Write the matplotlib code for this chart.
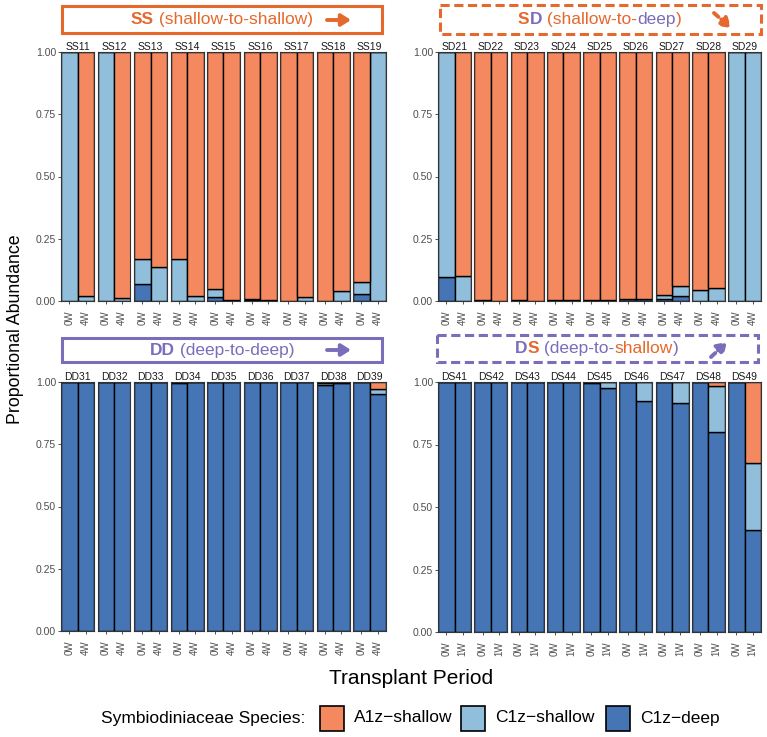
import matplotlib
matplotlib.use('Agg')
import matplotlib.pyplot as plt
from matplotlib.patches import Rectangle

plt.rcParams['font.family'] = ['Liberation Sans', 'DejaVu Sans']

# colours
c_a1 = '#F4895F'
c_c1s = '#91BFDB'
c_deep = '#4575B4'
orange = '#E5682C'
purple = '#7A6DB9'

# ---- data (proportions) ----
ss_ids = ['SS11', 'SS12', 'SS13', 'SS14', 'SS15', 'SS16', 'SS17', 'SS18', 'SS19']
ss_deep_0 = [0, 0, 0.07, 0, 0.015, 0.004, 0, 0, 0.027]
ss_c1s_0 = [1.0, 1.0, 0.10, 0.17, 0.035, 0.004, 0, 0, 0.051]
ss_a1_0 = [0, 0, 0.83, 0.83, 0.95, 0.992, 1.0, 1.0, 0.922]
ss_deep_1 = [0, 0, 0, 0, 0, 0.003, 0, 0, 0]
ss_c1s_1 = [0.022, 0.012, 0.135, 0.02, 0.005, 0.003, 0.018, 0.042, 1.0]
ss_a1_1 = [0.978, 0.988, 0.865, 0.98, 0.995, 0.994, 0.982, 0.958, 0]

sd_ids = ['SD21', 'SD22', 'SD23', 'SD24', 'SD25', 'SD26', 'SD27', 'SD28', 'SD29']
sd_deep_0 = [0.095, 0.005, 0.005, 0.003, 0.003, 0.007, 0.01, 0, 0]
sd_c1s_0 = [0.905, 0, 0, 0, 0, 0, 0.015, 0.045, 1.0]
sd_a1_0 = [0, 0.995, 0.995, 0.997, 0.997, 0.993, 0.975, 0.955, 0]
sd_deep_1 = [0, 0, 0, 0.003, 0.003, 0.007, 0.021, 0, 0]
sd_c1s_1 = [0.10, 0, 0, 0, 0, 0, 0.039, 0.053, 1.0]
sd_a1_1 = [0.90, 1.0, 1.0, 0.997, 0.997, 0.993, 0.94, 0.947, 0]

dd_ids = ['DD31', 'DD32', 'DD33', 'DD34', 'DD35', 'DD36', 'DD37', 'DD38', 'DD39']
dd_deep_0 = [1, 1, 1, 0.997, 1, 1, 1, 0.987, 1]
dd_c1s_0 = [0, 0, 0, 0.003, 0, 0, 0, 0.01, 0]
dd_a1_0 = [0, 0, 0, 0, 0, 0, 0, 0.003, 0]
dd_deep_1 = [1, 1, 1, 1, 1, 1, 1, 0.995, 0.953]
dd_c1s_1 = [0, 0, 0, 0, 0, 0, 0, 0.005, 0.017]
dd_a1_1 = [0, 0, 0, 0, 0, 0, 0, 0, 0.03]

ds_ids = ['DS41', 'DS42', 'DS43', 'DS44', 'DS45', 'DS46', 'DS47', 'DS48', 'DS49']
ds_deep_0 = [1, 1, 1, 1, 0.995, 1, 1, 1, 1]
ds_c1s_0 = [0, 0, 0, 0, 0.005, 0, 0, 0, 0]
ds_a1_0 = [0, 0, 0, 0, 0, 0, 0, 0, 0]
ds_deep_1 = [1, 1, 1, 1, 0.977, 0.924, 0.917, 0.80, 0.409]
ds_c1s_1 = [0, 0, 0, 0, 0.023, 0.076, 0.083, 0.184, 0.267]
ds_a1_1 = [0, 0, 0, 0, 0, 0, 0, 0.016, 0.324]

period_4w = ['0W', '4W']
period_1w = ['0W', '1W']

W, H = 767, 737
fig = plt.figure(figsize=(W / 100, H / 100), dpi=100)

# overlay axes in pixel coordinates for boxes, titles, legend
ov = fig.add_axes([0, 0, 1, 1])
ov.set_xlim(0, W)
ov.set_ylim(H, 0)
ov.axis('off')


def draw_panel(x0, x1, ytop, ybot, ids, d0, s0, a0, d1, s1, a1, periods):
    fw = 33
    gap = (x1 - x0 - 9 * fw) / 8
    for i, name in enumerate(ids):
        left = x0 + i * (fw + gap)
        ax = fig.add_axes([left / W, 1 - ybot / H, fw / W, (ybot - ytop) / H])
        deep = [d0[i], d1[i]]
        c1s = [s0[i], s1[i]]
        a1z = [a0[i], a1[i]]
        bot2 = [deep[0] + c1s[0], deep[1] + c1s[1]]
        kw = dict(width=1.0, edgecolor='black', linewidth=1.0)
        ax.bar([0, 1], deep, color=c_deep, **kw)
        ax.bar([0, 1], c1s, bottom=deep, color=c_c1s, **kw)
        ax.bar([0, 1], a1z, bottom=bot2, color=c_a1, **kw)
        ax.set_xlim(-0.5, 1.5)
        ax.set_ylim(0, 1)
        for sp in ax.spines.values():
            sp.set_color('#333333')
            sp.set_linewidth(0.8)
        ax.set_xticks([0, 1])
        ax.set_xticklabels(periods, rotation=90, fontsize=7, color='#4D4D4D')
        ax.tick_params(axis='x', length=2.5, width=0.6, color='#333333', pad=4)
        if i == 0:
            ax.set_yticks([0, 0.25, 0.5, 0.75, 1.0])
            ax.set_yticklabels(['0.00', '0.25', '0.50', '0.75', '1.00'],
                               fontsize=7.5, color='#4D4D4D')
            ax.tick_params(axis='y', length=2, width=0.6, color='#333333', pad=1.5)
        else:
            ax.set_yticks([])
        ax.set_title(name, fontsize=7.5, pad=1.5, color='#1A1A1A')


draw_panel(61, 386, 52, 301, ss_ids, ss_deep_0, ss_c1s_0, ss_a1_0,
           ss_deep_1, ss_c1s_1, ss_a1_1, period_4w)
draw_panel(438, 761, 52, 301, sd_ids, sd_deep_0, sd_c1s_0, sd_a1_0,
           sd_deep_1, sd_c1s_1, sd_a1_1, period_4w)
draw_panel(61, 386, 382, 631, dd_ids, dd_deep_0, dd_c1s_0, dd_a1_0,
           dd_deep_1, dd_c1s_1, dd_a1_1, period_4w)
draw_panel(438, 761, 382, 632, ds_ids, ds_deep_0, ds_c1s_0, ds_a1_0,
           ds_deep_1, ds_c1s_1, ds_a1_1, period_1w)


def header(x0, y0, x1, y1, color, dashed, pieces, tx, arrow):
    ov.add_patch(Rectangle((x0, y0), x1 - x0, y1 - y0, fill=False, edgecolor=color,
                           linewidth=2.2, linestyle=(0, (3, 1.5)) if dashed else '-'))
    ty = (y0 + y1) / 2
    prev = None
    for s, col, bold in pieces:
        fw = 'bold' if bold else 'normal'
        if prev is None:
            prev = ov.text(tx, ty, s, color=col, fontsize=12.5, fontweight=fw,
                           va='center', ha='left')
        else:
            prev = ov.annotate(s, xy=(1, 0), xycoords=prev, va='bottom', ha='left',
                               color=col, fontsize=12.5, fontweight=fw)
    (ax0, ay0), (ax1, ay1), ls = arrow
    ov.annotate('', xy=(ax1, ay1), xytext=(ax0, ay0),
                arrowprops=dict(arrowstyle='-|>,head_length=0.55,head_width=0.35',
                                color=color, lw=2.8, linestyle=ls, shrinkA=0, shrinkB=0))


header(62, 6, 382, 33, orange, False,
       [('SS', orange, True), (' (shallow-to-shallow)', orange, False)], 131,
       ((327, 20), (351, 20), '-'))
header(440, 5, 761, 34, orange, True,
       [('S', orange, True), ('D', purple, True), (' (shallow-to-', orange, False),
        ('deep', purple, False), (')', orange, False)], 518,
       ((714, 13), (731, 28), (0, (1.5, 1))))
header(62, 338, 382, 362, purple, False,
       [('DD', purple, True), (' (deep-to-deep)', purple, False)], 150,
       ((327, 350), (351, 350), '-'))
header(437, 335, 758, 362, purple, True,
       [('D', purple, True), ('S', orange, True), (' (deep-to-', purple, False),
        ('shallow', orange, False), (')', purple, False)], 515,
       ((711, 357), (727, 342), (0, (1.5, 1))))

# axis titles
ov.text(16, 329, 'Proportional Abundance', rotation=90, ha='center', va='center',
        fontsize=12.8, color='black')
ov.text(411, 678, 'Transplant Period', ha='center', va='center', fontsize=15,
        color='black')

# legend
leg_labels = ['A1z\u2212shallow', 'C1z\u2212shallow', 'C1z\u2212deep']
leg_colors = [c_a1, c_c1s, c_deep]
ov.text(305, 718, 'Symbiodiniaceae Species:', ha='right', va='center', fontsize=12.5)
sw_x = [320, 461, 606]
for xs, lab, col in zip(sw_x, leg_labels, leg_colors):
    ov.add_patch(Rectangle((xs, 706), 24, 25, facecolor=col, edgecolor='black',
                           linewidth=1.2))
    ov.text(xs + 34, 718, lab, ha='left', va='center', fontsize=12.5)

fig.savefig('out.png', dpi=100)
